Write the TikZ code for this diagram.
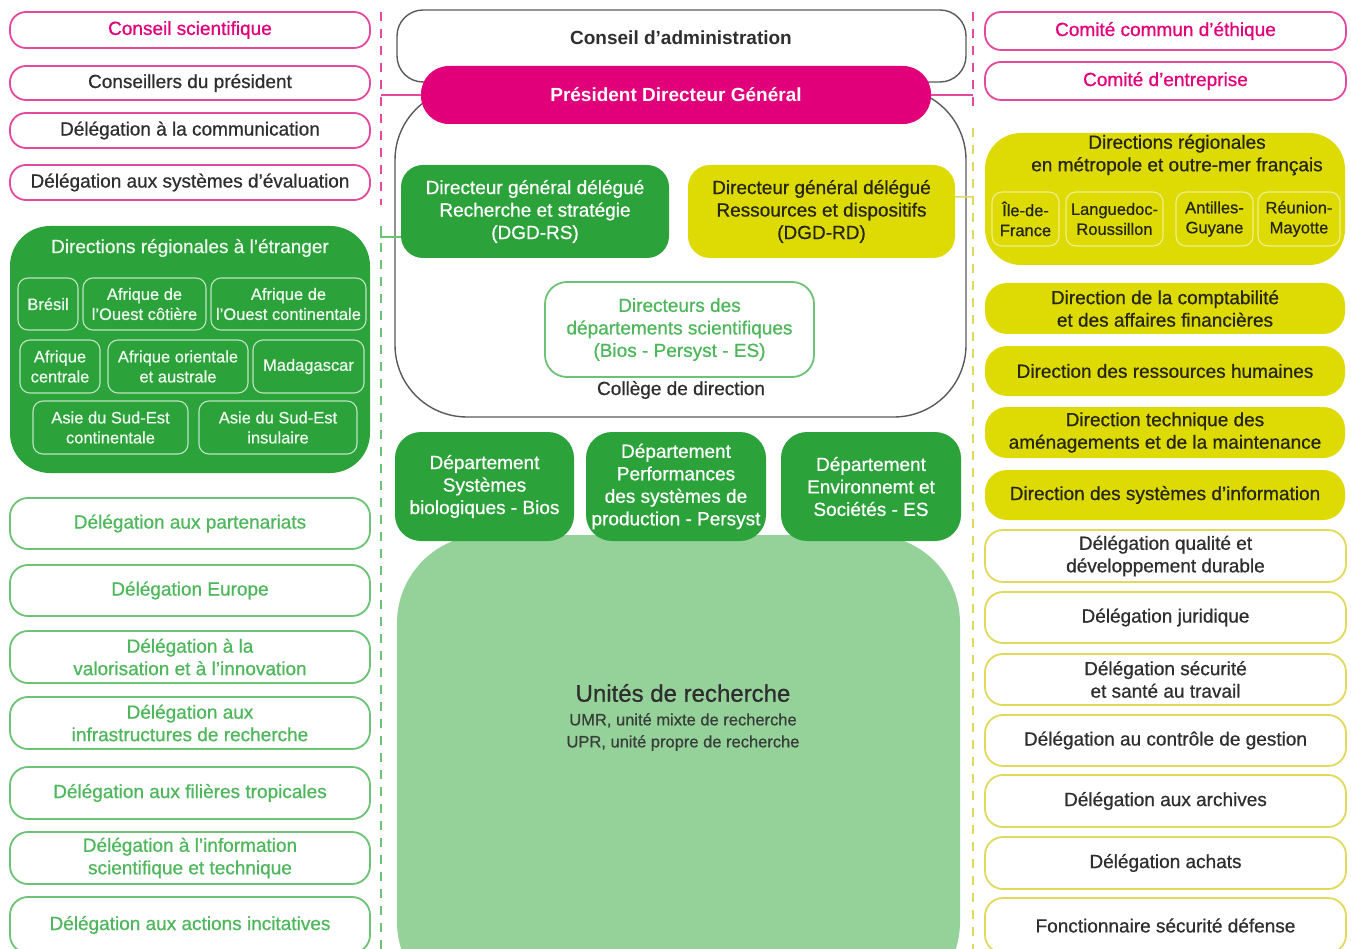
\documentclass[tikz,border=0pt]{standalone}
\usepackage{fontspec}
\setmainfont{Liberation Sans}[UprightFeatures={FakeBold=0.7}]
\usetikzlibrary{calc}
\definecolor{pk}{HTML}{E2007A}
\definecolor{pkline}{HTML}{E5489F}
\definecolor{gr}{HTML}{2BA23A}
\definecolor{lgr}{HTML}{94D29A}
\definecolor{grline}{HTML}{6CC275}
\definecolor{grtext}{HTML}{4FB75B}
\definecolor{yl}{HTML}{DEDB04}
\definecolor{ylline}{HTML}{E0D95A}
\definecolor{dk}{HTML}{2E2E2E}
\definecolor{yltext}{HTML}{26260C}
\definecolor{gyline}{HTML}{5A5A5A}
\newcommand\bx[7]{\node[#6, minimum width={(#4)-(#2)}, minimum height={(#5)-(#3)}] (#1) at ({((#2)+(#4))/2},{((#3)+(#5))/2}) {#7};}
\tikzset{
  every node/.style={font=\fontsize{19}{22.5}\selectfont, inner sep=1pt, outer sep=0pt, align=center},
  small/.style={font=\fontsize{16.5}{20}\selectfont},
  pinkbox/.style={draw=pkline, line width=1.8pt, rounded corners=16pt, fill=white, text=dk},
  pinkboxp/.style={pinkbox, text=pk},
  grout/.style={draw=grline, line width=1.8pt, rounded corners=18pt, fill=white, text=grtext},
  ylout/.style={draw=ylline, line width=1.8pt, rounded corners=18pt, fill=white, text=dk},
  ylfill/.style={fill=yl, rounded corners=22pt, text=yltext},
  grfill/.style={fill=gr, rounded corners=22pt, text=white},
  ginner/.style={small, draw=white!70!gr, line width=1.1pt, rounded corners=10pt, text=white!92!gr},
  yinner/.style={small, draw=white!55!yl, line width=1.1pt, rounded corners=10pt, text=yltext},
  dashpk/.style={draw=pkline, line width=2pt, dash pattern=on 9pt off 8pt},
  dashgr/.style={draw=grline, line width=2pt, dash pattern=on 9pt off 8pt},
  dashyl/.style={draw=ylline, line width=2pt, dash pattern=on 9pt off 8pt},
}
\begin{document}
\begin{tikzpicture}[x=1pt, y=-1pt]
\useasboundingbox (0,0) rectangle (1351,949);
\fill[white] (0,0) rectangle (1351,949);

% ---------- dashed separators ----------
\coordinate (lp1) at (381,12); \coordinate (lp2) at (381,205);
\coordinate (lg1) at (381,226); \coordinate (lg2) at (381,949);
\coordinate (rp1) at (973,12); \coordinate (rp2) at (973,108);
\coordinate (ry1) at (973,128); \coordinate (ry2) at (973,949);
\draw[dashpk] (lp1) -- (lp2);
\draw[dashgr] (lg1) -- (lg2);
\draw[dashpk] (rp1) -- (rp2);
\draw[dashyl] (ry1) -- (ry2);

% ---------- left column ----------
\bx{cs}{10}{12}{370}{48}{pinkboxp}{Conseil scientifique}
\bx{cp}{10}{66}{370}{100}{pinkbox}{Conseillers du président}
\bx{dcom}{10}{113}{370}{148}{pinkbox}{Délégation à la communication}
\bx{deval}{10}{165}{370}{200}{pinkbox}{Délégation aux systèmes d'évaluation}

\bx{dre}{10}{226}{370}{473}{fill=gr, rounded corners=40pt}{}
\node[text=white!92!gr] (dretitle) at (190,248) {Directions régionales à l'étranger};
\bx{bresil}{18}{278}{78}{330}{ginner}{Brésil}
\bx{aoc}{83}{278}{206}{330}{ginner}{Afrique de\\l'Ouest côtière}
\bx{aoco}{211}{278}{366}{330}{ginner}{Afrique de\\l'Ouest continentale}
\bx{acen}{20}{340}{100}{393}{ginner}{Afrique\\centrale}
\bx{aor}{108}{340}{248}{393}{ginner}{Afrique orientale\\et australe}
\bx{mada}{253}{340}{364}{393}{ginner}{Madagascar}
\bx{asc}{33}{401}{188}{454}{ginner}{Asie du Sud-Est\\continentale}
\bx{asi}{199}{401}{357}{454}{ginner}{Asie du Sud-Est\\insulaire}

\bx{dpart}{10}{498}{370}{549}{grout}{Délégation aux partenariats}
\bx{deur}{10}{565}{370}{616}{grout}{Délégation Europe}
\bx{dval}{10}{631}{370}{683}{grout}{Délégation à la\\valorisation et à l'innovation}
\bx{dinf}{10}{697}{370}{749}{grout}{Délégation aux\\infrastructures de recherche}
\bx{dfil}{10}{767}{370}{819}{grout}{Délégation aux filières tropicales}
\bx{dist}{10}{832}{370}{884}{grout}{Délégation à l'information\\scientifique et technique}
\bx{dinc}{10}{897}{370}{953}{grout}{Délégation aux actions incitatives}

% ---------- centre ----------
\bx{ca}{397}{10}{966}{82}{draw=gyline, line width=1.4pt, rounded corners=26pt, fill=white}{}
\node[text=dk, font=\fontsize{19}{22.5}\selectfont\bfseries] (catxt) at (681,38) {Conseil d’administration};
\bx{college}{395}{88}{966}{417}{draw=gyline, line width=1.4pt, rounded corners=72pt, fill=white}{}
\bx{pdg}{421}{66}{931}{124}{fill=pk, rounded corners=28pt, text=white, font=\fontsize{19}{22.5}\selectfont\bfseries}{Président Directeur Général}
\bx{dgdrs}{401}{165}{669}{258}{grfill}{Directeur général délégué\\Recherche et stratégie\\(DGD-RS)}
\bx{dgdrd}{688}{165}{955}{258}{ylfill}{Directeur général délégué\\Ressources et dispositifs\\(DGD-RD)}
\bx{ddep}{545}{282}{814}{377}{grout, rounded corners=22pt}{Directeurs des\\départements scientifiques\\(Bios - Persyst - ES)}
\node[text=dk] (collegelbl) at (681,390) {Collège de direction};

\bx{unites}{397}{535}{960}{1010}{fill=lgr, rounded corners=88pt}{}
\node[text=dk, font=\fontsize{24}{28}\selectfont] (unitestitle) at (683,693) {Unités de recherche};
\node[text=dk!90!lgr, font=\fontsize{16.5}{22}\selectfont] (unitessub) at (683,732) {UMR, unité mixte de recherche\\UPR, unité propre de recherche};

\bx{bios}{395}{432}{574}{541}{grfill, rounded corners=26pt}{Département\\Systèmes\\biologiques - Bios}
\bx{persyst}{586}{432}{766}{541}{grfill, rounded corners=26pt}{Département\\Performances\\des systèmes de\\production - Persyst}
\bx{es}{781}{432}{961}{541}{grfill, rounded corners=26pt}{Département\\Environnemt et\\Sociétés - ES}

% ---------- right column ----------
\bx{cce}{985}{12}{1346}{50}{pinkboxp}{Comité commun d’éthique}
\bx{ce}{985}{62}{1346}{100}{pinkboxp}{Comité d’entreprise}

\bx{drm}{985}{133}{1345}{265}{fill=yl, rounded corners=36pt}{}
\node[text=yltext] (drmtitle) at (1177,155) {Directions régionales\\en métropole et outre-mer français};
\bx{idf}{992}{192}{1059}{246}{yinner}{Île-de-\\France}
\bx{lr}{1066}{192}{1163}{246}{yinner}{Languedoc-\\Roussillon}
\bx{ag}{1176}{192}{1253}{246}{yinner}{Antilles-\\Guyane}
\bx{rm}{1258}{192}{1340}{246}{yinner}{Réunion-\\Mayotte}

\bx{dcompta}{985}{283}{1345}{334}{ylfill}{Direction de la comptabilité\\et des affaires financières}
\bx{drh}{985}{346}{1345}{396}{ylfill}{Direction des ressources humaines}
\bx{dtech}{985}{407}{1345}{458}{ylfill}{Direction technique des\\aménagements et de la maintenance}
\bx{dsi}{985}{470}{1345}{520}{ylfill}{Direction des systèmes d'information}

\bx{dq}{985}{530}{1346}{582}{ylout}{Délégation qualité et\\développement durable}
\bx{dj}{985}{592}{1346}{643}{ylout}{Délégation juridique}
\bx{dss}{985}{654}{1346}{705}{ylout}{Délégation sécurité\\et santé au travail}
\bx{dcg}{985}{715}{1346}{766}{ylout}{Délégation au contrôle de gestion}
\bx{da}{985}{775}{1346}{827}{ylout}{Délégation aux archives}
\bx{dach}{985}{837}{1346}{889}{ylout}{Délégation achats}
\bx{fsd}{985}{898}{1346}{953}{ylout}{Fonctionnaire sécurité défense}

% ---------- connectors ----------
\coordinate (lpj) at (381,95);
\coordinate (rpj) at (973,95);
\draw[pkline, line width=1.8pt] (lpj) -- (pdg.west);
\draw[pkline, line width=1.8pt] (pdg.east) -- (rpj);
\draw[grline, line width=1.8pt] (lg1) |- ($(dgdrs.south west)!0.226!(dgdrs.north west)$);
\coordinate (ryj) at (973,197);
\draw[ylline, line width=1.5pt] ($(dgdrd.south east)!0.656!(dgdrd.north east)$) -- (ryj);
\end{tikzpicture}
\end{document}
